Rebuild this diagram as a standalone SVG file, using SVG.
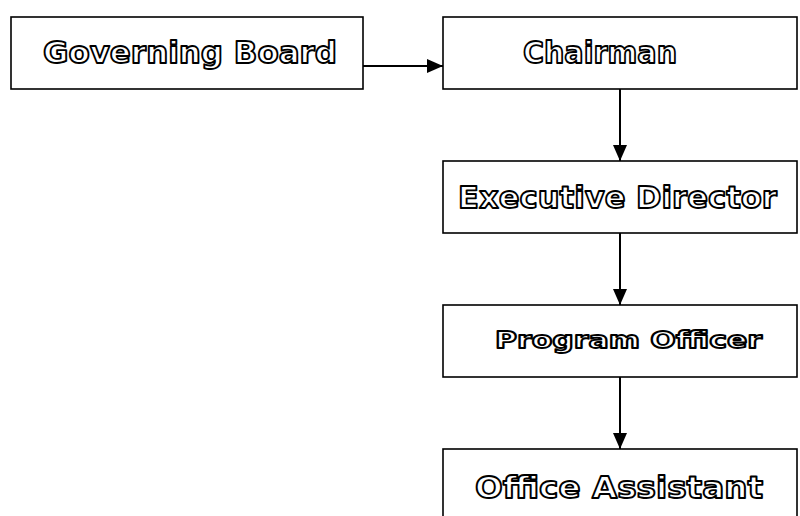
<svg xmlns="http://www.w3.org/2000/svg" width="800" height="516" viewBox="0 0 800 516">
<style>
.box{fill:#fff;stroke:#000;stroke-width:1.6}
.t{font-family:"DejaVu Sans",sans-serif;font-weight:bold;fill:#fff;stroke:#000;stroke-width:1.8;stroke-linejoin:round}
.c{stroke:#000;stroke-width:2;fill:none}
</style>
<defs>
<marker id="ah" markerUnits="userSpaceOnUse" markerWidth="16" markerHeight="14" refX="16" refY="7" orient="auto">
<path d="M0,0 L16,7 L0,14 Z" fill="#000"/>
</marker>
</defs>
<rect width="800" height="516" fill="#fff"/>
<g id="connectors">
<line class="c" x1="363" y1="66" x2="443" y2="66" marker-end="url(#ah)"/>
<line class="c" x1="620" y1="89" x2="620" y2="161" marker-end="url(#ah)"/>
<line class="c" x1="620" y1="233" x2="620" y2="305" marker-end="url(#ah)"/>
<line class="c" x1="620" y1="377" x2="620" y2="449" marker-end="url(#ah)"/>
</g>
<g id="governing-board">
<rect class="box" x="11" y="17" width="352" height="72"/>
<text class="t" x="43" y="63" font-size="30" textLength="294" lengthAdjust="spacingAndGlyphs">Governing Board</text>
</g>
<g id="chairman">
<rect class="box" x="443" y="17" width="354" height="72"/>
<text class="t" x="523" y="63" font-size="30" textLength="154" lengthAdjust="spacingAndGlyphs">Chairman</text>
</g>
<g id="executive-director">
<rect class="box" x="443" y="161" width="354" height="72"/>
<text class="t" x="458" y="208" font-size="30" textLength="319" lengthAdjust="spacingAndGlyphs">Executive Director</text>
</g>
<g id="program-officer">
<rect class="box" x="443" y="305" width="354" height="72"/>
<text class="t" x="495" y="348" font-size="23" textLength="267" lengthAdjust="spacingAndGlyphs">Program Officer</text>
</g>
<g id="office-assistant">
<rect class="box" x="443" y="449" width="354" height="80"/>
<text class="t" x="475" y="498" font-size="30" textLength="288" lengthAdjust="spacingAndGlyphs">Office Assistant</text>
</g>
</svg>
